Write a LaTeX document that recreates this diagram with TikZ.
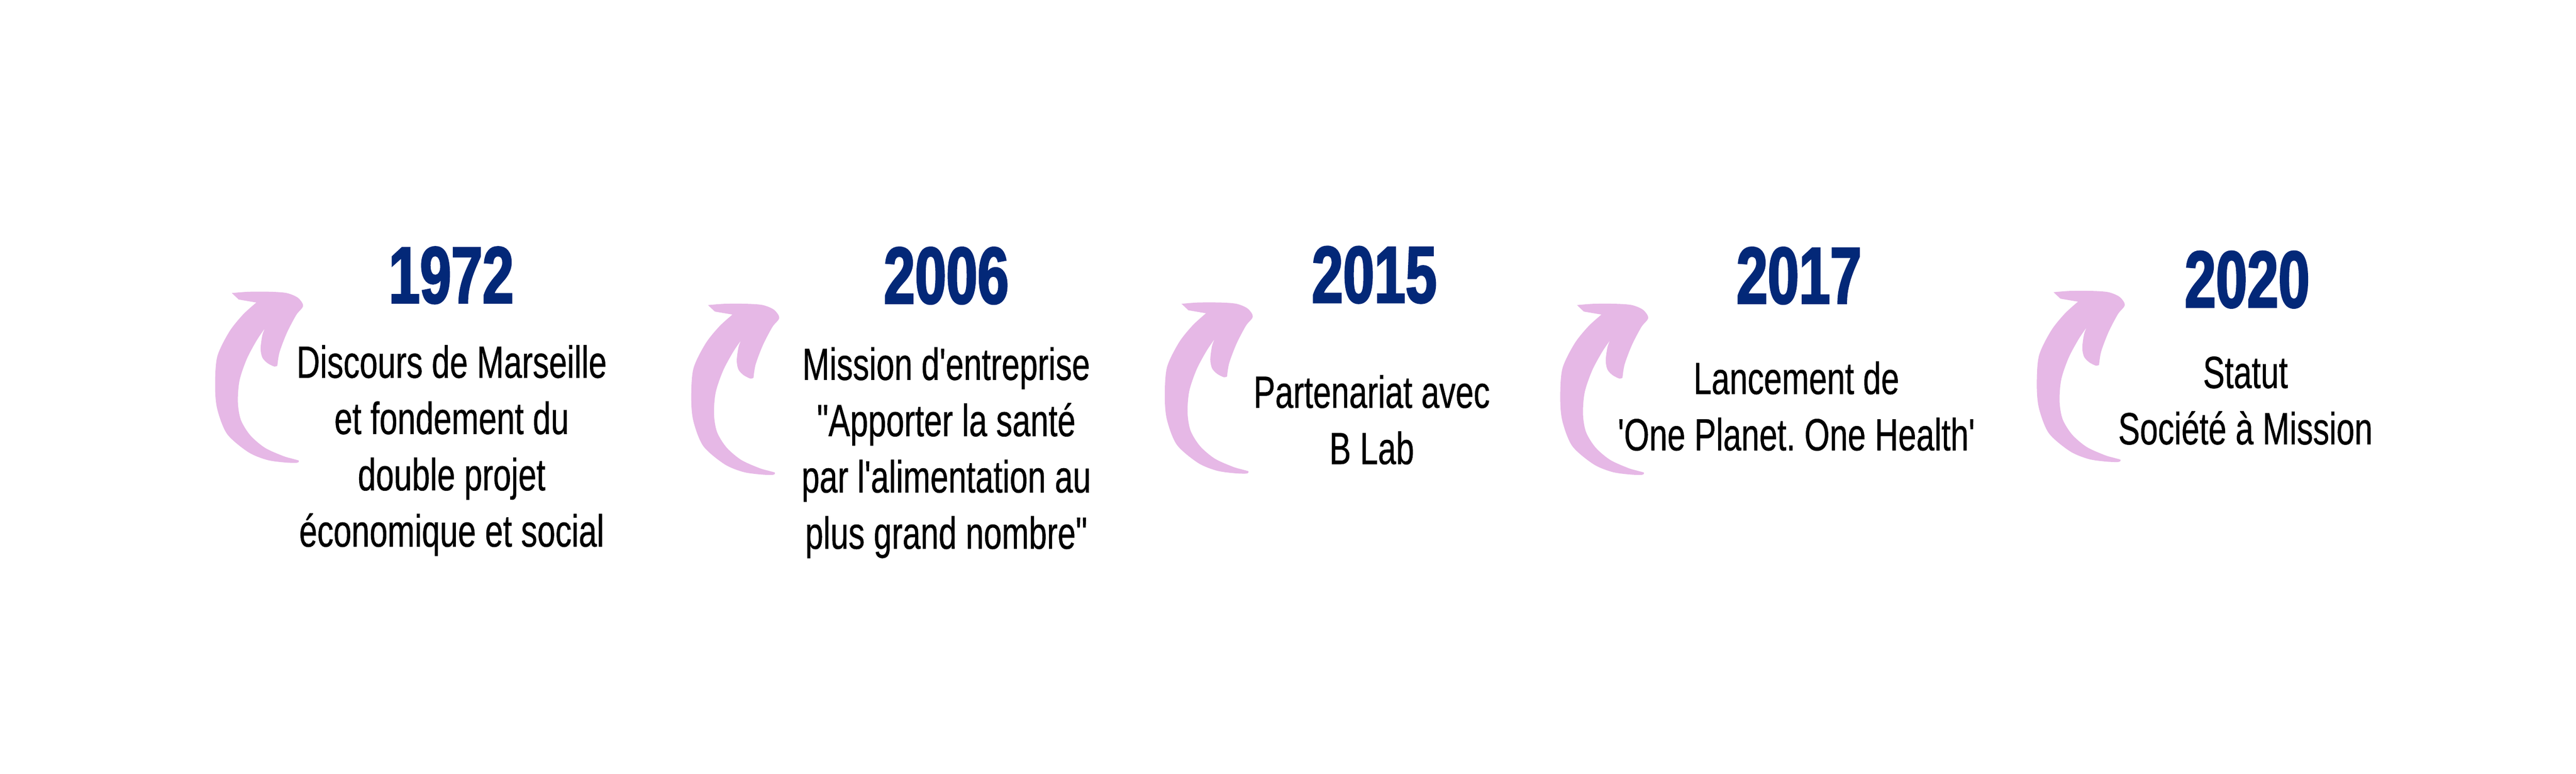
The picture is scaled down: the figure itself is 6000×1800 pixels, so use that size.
\documentclass[tikz,border=0pt]{standalone}
\usepackage{fontspec}
\newfontfamily\descfont{Liberation Sans}[FakeStretch=0.72, FakeBold=0.6]
\newfontfamily\yearfont{Liberation Sans Bold}[FakeStretch=0.7, FakeBold=2]
\definecolor{yearblue}{RGB}{3,40,120}
\definecolor{arrowpink}{RGB}{230,184,230}
\frenchspacing
\tikzset{
	year/.style={anchor=base, text=yearblue, font=\yearfont\fontsize{18.7}{20}\selectfont},
	desc/.style={anchor=base, align=center, font=\descfont\fontsize{10.5}{13.1}\selectfont},
	curl/.pic={
		\begin{scope}[yscale=-1]
		\fill[arrowpink] plot[smooth] coordinates {(39,2) (77,-1) (130,-1) (167,2) (193,13) (205,32) (189,53) (167,95) (150,140) (145,171)}
			-- plot[smooth] coordinates {(145,171) (138,173) (122,165) (110,152) (106,131) (110,100) (116,84)}
			-- plot[smooth] coordinates {(116,84) (97,112) (74,155) (57,205) (53,255) (60,297) (82,333) (116,362) (158,381) (182,388) (195,392) (190,397) (160,396) (120,390) (77,372) (28,330) (5,272) (0,218) (5,150) (33,92) (65,52) (96,24)}
			-- (55,17) -- cycle;
		\end{scope}
	}
}
\begin{document}
\begin{tikzpicture}[y=0.1pt, x=0.1pt, yscale=-1, inner sep=0pt, outer sep=0pt]
\useasboundingbox (0,0) rectangle (6000,1800);
	\pic at (501,680) {curl};
	\node[year] (y1972) at (1051,705) {1972};
	\node[desc] (d1972) at (1052,1272) {Discours de Marseille\\et fondement du\\double projet\\économique et social};
	\pic at (1610,708) {curl};
	\node[year] (y2006) at (2204,706) {2006};
	\node[desc] (d2006) at (2204,1277) {Mission d'entreprise\\"Apporter la santé\\par l'alimentation au\\plus grand nombre"};
	\pic at (2713,705) {curl};
	\node[year] (y2015) at (3201,704) {2015};
	\node[desc] (d2015) at (3195,1080) {Partenariat avec\\B Lab};
	\pic at (3634,708) {curl};
	\node[year] (y2017) at (4190,706) {2017};
	\node[desc] (d2017) at (4184,1048) {Lancement de\\'One Planet. One Health'};
	\pic at (4744,678) {curl};
	\node[year] (y2020) at (5234,715) {2020};
	\node[desc] (d2020) at (5230,1034) {Statut\\Société à Mission};
\end{tikzpicture}
\end{document}
